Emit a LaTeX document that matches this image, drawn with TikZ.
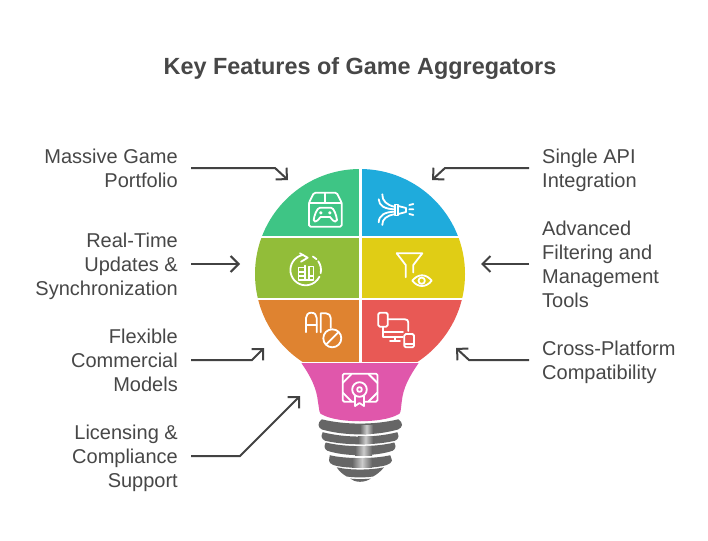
\documentclass[tikz,border=0pt]{standalone}
\usepackage{fontspec}
\setmainfont{Liberation Sans}
\usetikzlibrary{arrows.meta}
\definecolor{txt}{HTML}{474747}
\definecolor{arrowc}{HTML}{424242}
\definecolor{cgreen}{HTML}{3EC585}
\definecolor{cblue}{HTML}{1FABDC}
\definecolor{clime}{HTML}{92BD39}
\definecolor{cyellow}{HTML}{E0CD15}
\definecolor{corange}{HTML}{DF8330}
\definecolor{cred}{HTML}{E85955}
\definecolor{cpink}{HTML}{E057AB}
\definecolor{cbase}{HTML}{666666}
\tikzset{
 lbl/.style={text=txt,inner sep=0pt,font=\fontsize{20}{24}\selectfont},
 lleft/.style={lbl,anchor=east,align=right},
 lright/.style={lbl,anchor=west,align=left},
 conn/.style={draw=arrowc,line width=2pt,line join=miter,-{Straight Barb[length=8pt,width=16pt,line width=2pt]}},
 connstraight/.style={draw=arrowc,line width=2pt,-{Straight Barb[length=8pt,width=16pt,line width=2pt]}},
 icon/.style={draw=white,line width=1.8pt,line cap=round,line join=round,fill=none},
 thread/.style={fill=cbase,draw=none},
 glint/.style={left color=cbase,right color=cbase,middle color=white!80!black,shading angle=90}
}
\begin{document}
\begin{tikzpicture}[x=1pt,y=-1pt]
\useasboundingbox (0,0) rectangle (708,540);
\fill[white] (0,0) rectangle (708,540);
\node[inner sep=0pt,text=txt,font=\fontsize{23.4}{28}\selectfont\bfseries] (title) at (360,68.5) {Key Features of Game Aggregators};
% bulb quadrants
\begin{scope}
\clip (360,274) circle (105);
\fill[cgreen] (250,160) rectangle (358.8,236.2);
\fill[cblue] (361.8,160) rectangle (470,236.2);
\fill[clime] (250,238.4) rectangle (358.8,298);
\fill[cyellow] (361.8,238.4) rectangle (470,298);
\fill[corange] (250,300.2) rectangle (358.8,361.5);
\fill[cred] (361.8,300.2) rectangle (470,361.5);
\end{scope}
% pink neck
\fill[cpink] (301.5,363.2) -- (418.5,363.2) .. controls (409,377) and (403,388) .. (401.7,402) -- (400.6,411) .. controls (400.4,413) and (399.5,414) .. (398,414.5) .. controls (382,423.5) and (338,423.5) .. (322,414.5) .. controls (320.5,414) and (319.6,413) .. (319.4,411) -- (318,402) .. controls (316.5,388) and (311,377) .. (301.5,363.2) -- cycle;
% base threads
\path[thread] (321.7,419.3) .. controls (345,425) and (375,425) .. (398.3,419.3) .. controls (401,421) and (402,423) .. (402,425) .. controls (402,427) and (400,428.5) .. (398,429.5) .. controls (375,436) and (345,436) .. (322,429.5) .. controls (320,428.5) and (318.5,427) .. (318.5,425) .. controls (318.5,423) and (319.5,421) .. (321.7,419.3) -- cycle;
\path[thread] (322.7,432.2) .. controls (345,438) and (375,438) .. (397.3,432.2) .. controls (398,434) and (398.5,435.5) .. (398.5,436.7) .. controls (398.5,438.5) and (396.5,440) .. (395,440.7) .. controls (375,445.5) and (345,445.5) .. (325,440.7) .. controls (323.5,440) and (321.5,438.5) .. (321.5,436.7) .. controls (321.5,435.5) and (322,434) .. (322.7,432.2) -- cycle;
\path[thread] (325.7,442.5) .. controls (345,447.3) and (375,447.3) .. (394.3,442.5) .. controls (395,444) and (395.5,445.5) .. (395.5,446.7) .. controls (395.5,448.5) and (394,450) .. (392.7,450.7) .. controls (375,456.7) and (345,456.7) .. (327.3,450.7) .. controls (326,450) and (324.5,448.5) .. (324.5,446.7) .. controls (324.5,445.5) and (325,444) .. (325.7,442.5) -- cycle;
\path[thread] (329.8,455.2) .. controls (345,459) and (375,459) .. (390.2,455.2) .. controls (391,458) and (392,459.5) .. (392,460.7) .. controls (392,462.5) and (389,464) .. (386.7,465) .. controls (375,468.8) and (345,468.8) .. (333.3,465) .. controls (331,464) and (329,462.5) .. (329,460.7) .. controls (329,459.5) and (329.5,458) .. (329.8,455.2) -- cycle;
\path[thread] (336.7,467.3) .. controls (350,470.3) and (370,470.3) .. (384,467.3) .. controls (381,471) and (377,474.5) .. (373,476.5) .. controls (365,477.7) and (355,477.7) .. (346.7,476.5) .. controls (343,474.5) and (339,471) .. (336.7,467.3) -- cycle;
\path[thread] (350,478.5) .. controls (355,479.3) and (365,479.3) .. (371,478.5) .. controls (368,480.5) and (364,481.8) .. (360,481.8) .. controls (356,481.8) and (352.5,480.5) .. (350,478.5) -- cycle;
% highlight on the threads
\shade[glint] (360,425) rectangle (373,433.8);
\shade[glint] (358,436.7) rectangle (373,443.6);
\shade[glint] (355,446.4) rectangle (372,455);
\shade[glint] (352,458.4) rectangle (372,467.8);
% green icon: game box
\draw[icon,rounded corners=1.5pt] (314,192.7) -- (336.7,192.7) -- (341.7,202.7) -- (341.7,226.7) -- (309,226.7) -- (309,202.7) -- cycle;
\draw[icon] (309,202.7) -- (341.7,202.7) (325.3,192.7) -- (325.3,202.7);
\draw[icon] (320,207.7) -- (331,207.7) .. controls (334,207.7) and (336.5,216) .. (337,220) .. controls (337,222) and (334,222) .. (333,220.5) -- (330,217) -- (320.5,217) -- (317.5,220.5) .. controls (316,222) and (313.5,222) .. (313.7,220) .. controls (314,216) and (317,207.7) .. (320,207.7) -- cycle;
\draw[icon,line width=1.2pt] (320.8,212.8) circle (1.1) (329.8,212.8) circle (1.1);
% blue icon: nozzle
\draw[icon] (395,204.5) -- (398.3,204.5) -- (398.3,215.5) -- (395,215.5) -- cycle;
\draw[icon] (398.3,206) -- (406,208) -- (406,212) -- (398.3,214);
\draw[icon] (409.3,205) -- (413.3,204) (409.3,209.3) -- (413.3,209.3) (409.3,214) -- (413.3,215);
\draw[icon] (382.3,194.3) .. controls (382,201) and (387,205) .. (394.3,206.7);
\draw[icon] (378.7,199.3) .. controls (379,206) and (385,209) .. (394.3,209.3);
\draw[icon] (378.7,222.3) .. controls (379,215) and (385,212) .. (394.3,211.7);
\draw[icon] (382.3,225) .. controls (382,219) and (387,215.5) .. (394.3,214.3);
% lime icon: cycle and book
\coordinate (cyc) at (305.7,270);
\draw[icon] (cyc) ++(-100:15.3) arc[start angle=-100,end angle=-334,radius=15.3];
\draw[icon] (cyc) ++(-62:15.3) arc[start angle=-62,end angle=-45,radius=15.3];
\draw[icon] (cyc) ++(-35:15.3) arc[start angle=-35,end angle=12,radius=15.3];
\draw[icon] (300,253.3) -- (307.7,257.7) -- (301,261.7);
\draw[icon,line width=1.5pt] (304.8,267.5) -- (298.3,267.5) -- (298.3,280) -- (313.3,280) -- (313.3,266.5) -- (309,266.5) -- (309,272);
\draw[icon,line width=1.5pt] (304.8,265.5) -- (304.8,280) (309,272) -- (309,280);
\draw[icon,line width=1.2pt] (299,272) -- (304,272) (299,276) -- (304,276) (309,276) -- (313,276);
% yellow icon: funnel and eye
\draw[icon] (396.7,253.3) -- (422.3,253.3) -- (413.3,265) -- (413.3,272.5);
\draw[icon] (405.7,277.3) -- (405.7,265) -- (396.7,253.3);
\draw[icon] (412.3,280.7) .. controls (418,273.5) and (426,273.5) .. (431.7,280.7) .. controls (426,287.8) and (418,287.8) .. (412.3,280.7) -- cycle;
\draw[icon] (421.7,280.7) circle (3.2);
% orange icon
\draw[icon] (306,332.3) -- (306,318) .. controls (306,315) and (308,312.7) .. (311.3,312.7) .. controls (314.6,312.7) and (316.7,315) .. (316.7,318) -- (316.7,332.3);
\draw[icon] (306,325) -- (316.7,325);
\draw[icon] (320.7,332.3) -- (320.7,313.3) -- (326,313.3) .. controls (329,313.3) and (330.7,315.5) .. (330.7,318) -- (330.7,328);
\draw[icon] (332.3,338.3) circle (9);
\draw[icon] (326,344.6) -- (338.6,332);
% red icon
\draw[icon,rounded corners=1.5pt] (378.3,312.7) rectangle (387.7,326.7);
\draw[icon] (387.7,319.3) -- (405,319.3) .. controls (407,319.3) and (408.3,320.5) .. (408.3,322.5) -- (408.3,331);
\draw[icon] (383.3,326.7) -- (383.3,336.7) -- (403,336.7);
\draw[icon] (383.3,331.7) -- (403,331.7);
\draw[icon] (395,336.7) -- (395,341) (390,341) -- (400,341);
\draw[icon,rounded corners=1.5pt] (404.3,334) rectangle (414,347.3);
\draw[icon,line width=1.3pt] (404.3,344) -- (414,344);
% pink icon: certificate
\draw[icon,rounded corners=1.5pt] (354.5,401.7) -- (342.7,401.7) -- (342.7,373.7) -- (377.5,373.7) -- (377.5,401.7) -- (365,401.7);
\draw[icon] (342.7,383) -- (351.5,374);
\draw[icon] (368.5,374) -- (377.5,383);
\draw[icon] (342.7,392.5) -- (351.5,401.5);
\draw[icon] (368.5,401.5) -- (377.5,392.5);
\draw[icon] (359.5,389.5) circle (7.3);
\draw[icon] (359.5,389.5) circle (2.4);
\draw[icon] (355,396) -- (355,406) -- (359.5,403) -- (364,406) -- (364,396);
% labels
\node[lleft] (l1) at (178,168) {Massive Game\\Portfolio};
\node[lleft] (l2) at (178,266) {Real-Time\\Updates \&\\Synchronization};
\node[lleft] (l3) at (178,360) {Flexible\\Commercial\\Models};
\node[lleft] (l4) at (178,458) {Licensing \&\\Compliance\\Support};
\node[lright] (r1) at (542,170) {Single API\\Integration};
\node[lright] (r2) at (542,264) {Advanced\\Filtering and\\Management\\Tools};
\node[lright] (r3) at (542,362) {Cross-Platform\\Compatibility};
% connectors
\coordinate (a1) at (191,168); \coordinate (a1m) at (275,168); \coordinate (a1e) at (288,180);
\coordinate (a2) at (191,264); \coordinate (a2e) at (240,264);
\coordinate (a3) at (191,360); \coordinate (a3m) at (252,360); \coordinate (a3e) at (264,348);
\coordinate (a4) at (191,456); \coordinate (a4m) at (240,456); \coordinate (a4e) at (300,396);
\coordinate (b1) at (529,168); \coordinate (b1m) at (445,168); \coordinate (b1e) at (432,180);
\coordinate (b2) at (529,264); \coordinate (b2e) at (481,264);
\coordinate (b3) at (529,360); \coordinate (b3m) at (469,360); \coordinate (b3e) at (456,348);
\draw[conn] (a1) -- (a1m) -- (a1e);
\draw[connstraight] (a2) -- (a2e);
\draw[conn] (a3) -- (a3m) -- (a3e);
\draw[conn] (a4) -- (a4m) -- (a4e);
\draw[conn] (b1) -- (b1m) -- (b1e);
\draw[connstraight] (b2) -- (b2e);
\draw[conn] (b3) -- (b3m) -- (b3e);
\end{tikzpicture}
\end{document}
